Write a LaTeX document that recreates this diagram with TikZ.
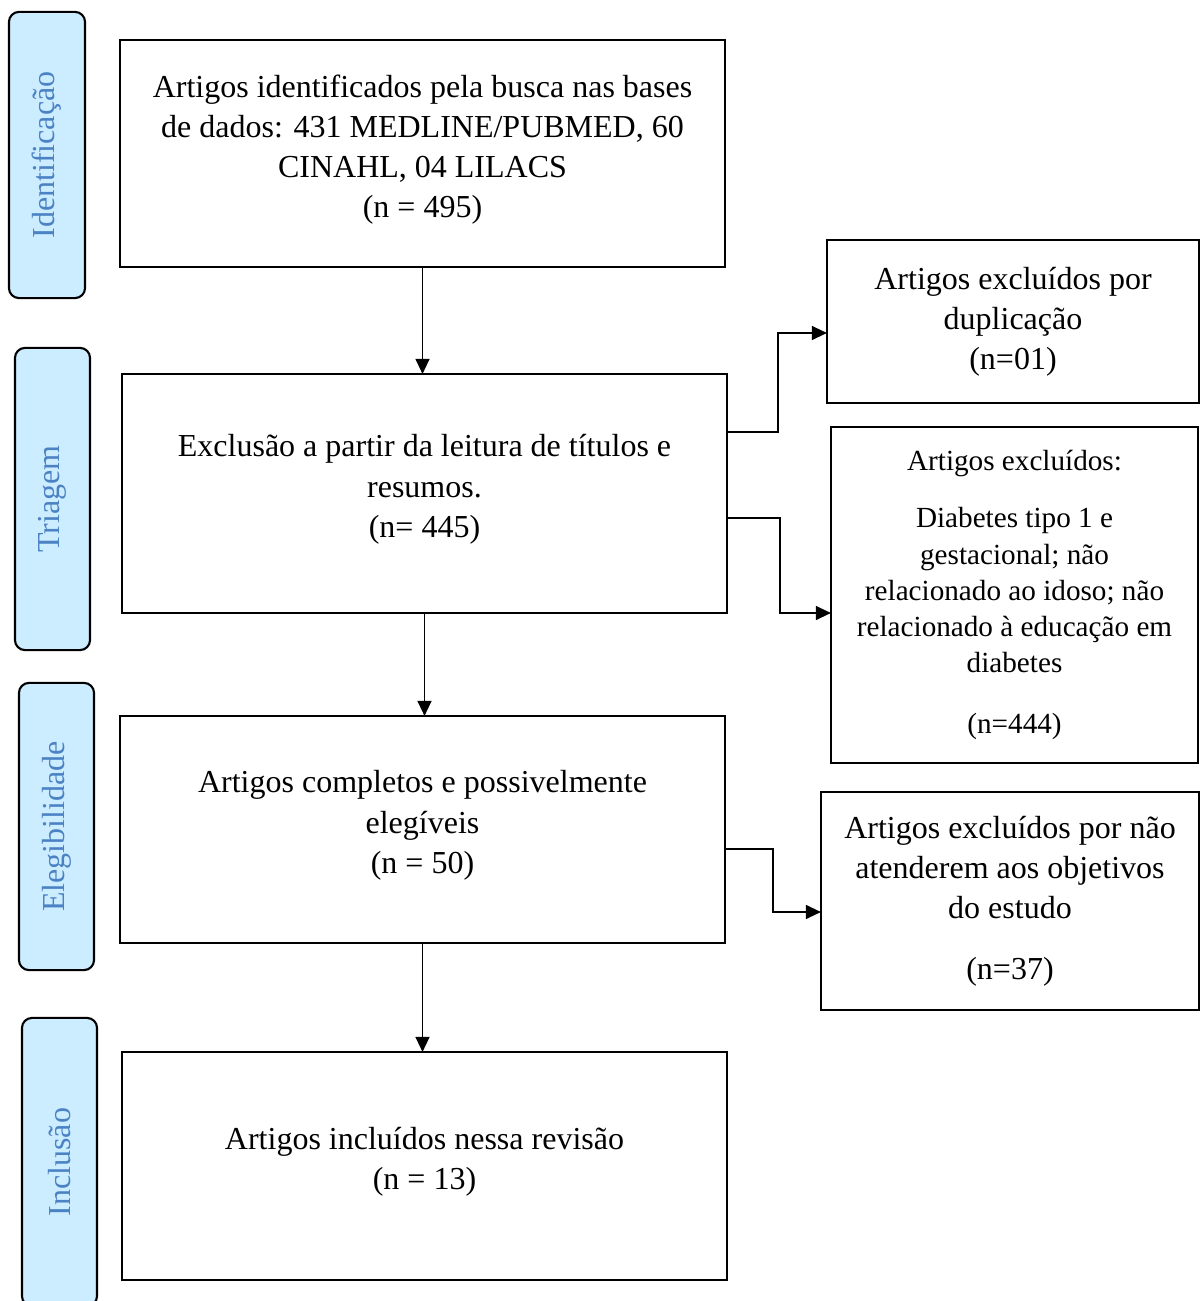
\documentclass[tikz,border=0pt]{standalone}
\usepackage{fontspec}
\setmainfont{Liberation Serif}
\usetikzlibrary{arrows.meta,calc}
\definecolor{stagefill}{HTML}{CCECFF}
\definecolor{stagetext}{HTML}{4A82C4}
\def\boxfont{\fontsize{9.1}{11.4}\selectfont}
\def\smallboxfont{\fontsize{8.3}{10.3}\selectfont}
\tikzset{
  box/.style={draw, line width=0.6pt, align=center, inner sep=0pt, outer sep=0pt, font=\boxfont},
  stage/.style={draw, line width=0.6pt, rounded corners=0.1cm, fill=stagefill, text=stagetext,
    rotate=90, inner sep=0pt, outer sep=0pt, font=\boxfont},
  arr/.style={-{Triangle[length=4.3pt,width=4pt]}, line width=0.4pt}
}

\begin{document}
\begin{tikzpicture}[x=0.01cm, y=-0.01cm]
  %%%%% START %%%%%
  \useasboundingbox (0, 0) rectangle (1200, 1301);

  % fases
  \node[stage, minimum width=2.86cm, minimum height=0.76cm] (s1) at (47, 155) {Identificação};
  \node[stage, minimum width=3.02cm, minimum height=0.75cm] (s2) at (52.5, 499) {Triagem};
  \node[stage, minimum width=2.87cm, minimum height=0.75cm] (s3) at (56.5, 826.5) {Elegibilidade};
  \node[stage, minimum width=2.88cm, minimum height=0.75cm] (s4) at (59.5, 1162) {Inclusão};

  % caixas principais
  \node[box, minimum width=6.05cm, minimum height=2.27cm] (b1) at (422.5, 153.5)
    {Artigos identificados pela busca nas bases\\ de dados: 431 MEDLINE/PUBMED, 60\\ CINAHL, 04 LILACS\\ (n = 495)\\[-0.25cm]};
  \node[box, minimum width=6.05cm, minimum height=2.39cm] (b2) at (424.5, 493.5)
    {Exclusão a partir da leitura de títulos e\\ resumos.\\ (n= 445)\\[-0.25cm]};
  \node[box, minimum width=6.05cm, minimum height=2.27cm] (b3) at (422.5, 829.5)
    {Artigos completos e possivelmente\\ elegíveis\\ (n = 50)\\[-0.25cm]};
  \node[box, minimum width=6.05cm, minimum height=2.28cm] (b4) at (424.5, 1166)
    {Artigos incluídos nessa revisão\\ (n = 13)\\[-0.25cm]};

  % excluidos
  \node[box, minimum width=3.72cm, minimum height=1.63cm] (r1) at (1013, 321.5)
    {Artigos excluídos por\\ duplicação\\ (n=01)};
  \node[box, minimum width=3.67cm, minimum height=3.36cm, font=\smallboxfont] (r2) at (1014.5, 595)
    {Artigos excluídos:\\[6pt] Diabetes tipo 1 e\\ gestacional; não\\ relacionado ao idoso; não\\
     relacionado à educação em\\ diabetes\\[7pt] (n=444)};
  \node[box, minimum width=3.78cm, minimum height=2.18cm] (r3) at (1010, 901)
    {Artigos excluídos por não\\ atenderem aos objetivos\\ do estudo\\[6pt] (n=37)};

  % setas
  \draw[arr] (b1.south) -- (b1.south |- b2.north);
  \draw[arr] (b2.south) -- (b2.south |- b3.north);
  \draw[arr] (b3.south) -- (b3.south |- b4.north);

  \draw[arr] ($(b2.north east)+(0, 58)$) -- ++(51, 0) |- ($(r1.west)+(0, 11.5)$);
  \draw[arr] ($(b2.east)+(0, 24.5)$) -- ++(53, 0) |- ($(r2.west)+(0, 18)$);
  \draw[arr] ($(b3.east)+(0, 19.5)$) -- ++(48, 0) |- ($(r3.west)+(0, 11)$);
  %%%%% END %%%%%
\end{tikzpicture}
\end{document}
